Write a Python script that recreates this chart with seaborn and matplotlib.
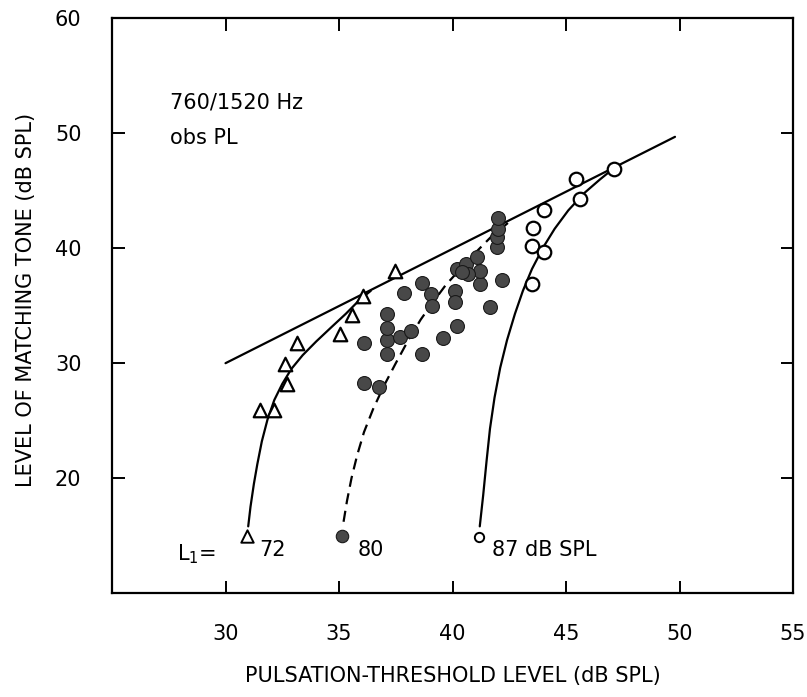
import matplotlib
matplotlib.use('Agg')
import matplotlib.pyplot as plt
import numpy as np
import pandas as pd
import seaborn as sns

# %% data
# L1 = 72 dB SPL (open triangles)
tri_x = [31.5, 32.15, 32.7, 32.6, 33.15, 35.05, 35.55, 36.05, 37.45]
tri_y = [25.9, 25.9, 28.2, 29.9, 31.75, 32.5, 34.2, 35.85, 38.0]

# L1 = 80 dB SPL (filled circles)
fill_x = [36.1, 36.75, 36.1, 37.12, 37.12, 37.12, 37.12, 37.7, 38.15, 38.66,
          37.86, 38.66, 39.06, 39.1, 39.6, 40.18, 40.13, 40.13, 41.67, 41.23,
          42.19, 40.2, 40.6, 41.23, 40.7, 41.09, 41.97, 41.97, 42.0, 42.0, 40.4]
fill_y = [28.25, 27.95, 31.75, 30.8, 32.05, 33.1, 34.25, 32.3, 32.8, 30.8,
          36.1, 37.0, 36.0, 35.0, 32.2, 33.2, 36.3, 35.3, 34.9, 36.9,
          37.2, 38.2, 38.6, 38.05, 37.75, 39.2, 40.1, 41.0, 41.7, 42.6, 37.9]

# L1 = 87 dB SPL (open circles)
open_x = [43.5, 43.5, 44.05, 43.55, 44.05, 45.6, 45.45, 47.1]
open_y = [36.9, 40.2, 39.7, 41.8, 43.3, 44.3, 46.0, 46.9]

# threshold points at the bottom of each curve
end_x = [30.95, 35.15, 41.15]
end_y = [15.0, 15.0, 14.9]

# straight line (matching = threshold)
ref_x = [30.0, 49.8]
ref_y = [30.0, 49.7]

# fitted curves
c72_x = [31.0, 31.1, 31.25, 31.4, 31.6, 31.85, 32.15, 32.5, 32.9, 33.4, 34.0, 34.7, 35.3, 35.9, 36.4]
c72_y = [15.8, 17.5, 19.5, 21.2, 23.2, 25.1, 26.8, 28.2, 29.5, 30.7, 31.9, 33.2, 34.3, 35.5, 36.3]

c80_x = [35.2, 35.35, 35.55, 35.8, 36.1, 36.5, 36.97, 37.5, 38.05, 38.6, 39.1, 39.7, 40.3, 41.0, 41.7, 42.5]
c80_y = [16.2, 18.0, 20.0, 22.0, 24.0, 26.0, 28.0, 30.0, 32.0, 33.8, 35.2, 36.8, 38.1, 39.6, 41.0, 42.3]

c87_x = [41.2, 41.35, 41.5, 41.65, 41.85, 42.1, 42.4, 42.75, 43.1, 43.5, 44.0, 44.5, 45.1, 45.8, 46.5, 47.0]
c87_y = [15.8, 18.5, 21.5, 24.3, 27.0, 29.6, 32.0, 34.3, 36.3, 38.2, 40.1, 41.7, 43.3, 44.8, 46.0, 46.8]

# %%
sns.set_style('ticks')
plt.rcParams['font.family'] = ['DejaVu Sans']
plt.rcParams['font.size'] = 15
plt.rcParams['text.color'] = 'black'
plt.rcParams['axes.labelcolor'] = 'black'
plt.rcParams['axes.edgecolor'] = 'black'
plt.rcParams['xtick.color'] = 'black'
plt.rcParams['ytick.color'] = 'black'

fig = plt.figure(figsize=(8.07, 6.97), dpi=100)
ax = fig.add_axes([0.1388, 0.1492, 0.8439, 0.8243])

lw = 1.6
sns.lineplot(x=ref_x, y=ref_y, ax=ax, color='black', lw=lw, sort=False, estimator=None)
sns.lineplot(x=c72_x, y=c72_y, ax=ax, color='black', lw=lw, sort=False, estimator=None)
sns.lineplot(x=c87_x, y=c87_y, ax=ax, color='black', lw=lw, sort=False, estimator=None)
sns.lineplot(x=c80_x, y=c80_y, ax=ax, color='black', lw=lw, sort=False, estimator=None,
             dashes=False, linestyle=(0, (5, 3)))

sns.scatterplot(x=fill_x, y=fill_y, ax=ax, marker='o', s=100,
                color='#484848', edgecolor='#1a1a1a', linewidth=0.8, zorder=3)
sns.scatterplot(x=tri_x, y=tri_y, ax=ax, marker='^', s=95,
                facecolor='white', edgecolor='black', linewidth=1.6, zorder=4)
sns.scatterplot(x=open_x, y=open_y, ax=ax, marker='o', s=95,
                facecolor='white', edgecolor='black', linewidth=1.6, zorder=4)

# end points
sns.scatterplot(x=end_x[:1], y=end_y[:1], ax=ax, marker='^', s=80,
                facecolor='white', edgecolor='black', linewidth=1.4, zorder=4)
sns.scatterplot(x=end_x[1:2], y=end_y[1:2], ax=ax, marker='o', s=80,
                color='#484848', edgecolor='#1a1a1a', linewidth=0.8, zorder=4)
sns.scatterplot(x=end_x[2:], y=end_y[2:], ax=ax, marker='o', s=45,
                facecolor='white', edgecolor='black', linewidth=1.4, zorder=4)

ax.set_xlim(25, 55)
ax.set_ylim(10, 60)
ax.set_xticks([30, 35, 40, 45, 50, 55])
ax.set_yticks([20, 30, 40, 50, 60])
ax.tick_params(direction='in', length=9, width=1.4, top=True, right=True,
               labelsize=15, pad=22, colors='black')
for sp in ax.spines.values():
    sp.set_linewidth(1.6)
    sp.set_color('black')
    sp.set_visible(True)

ax.set_xlabel('PULSATION-THRESHOLD LEVEL (dB SPL)', fontsize=15)
ax.set_ylabel('LEVEL OF MATCHING TONE (dB SPL)', fontsize=15)
ax.xaxis.set_label_coords(0.5, -0.127)
ax.yaxis.set_label_coords(-0.112, 0.51)

ax.text(27.55, 52.7, '760/1520 Hz', fontsize=15, va='center', ha='left')
ax.text(27.55, 49.6, 'obs PL', fontsize=15, va='center', ha='left')
ax.text(27.86, 13.4, r'L$_1$=', fontsize=15, va='center', ha='left')
ax.text(31.5, 13.75, '72', fontsize=15, va='center', ha='left')
ax.text(35.8, 13.75, '80', fontsize=15, va='center', ha='left')
ax.text(41.74, 13.75, '87 dB SPL', fontsize=15, va='center', ha='left')

plt.savefig('out.png', dpi=100)
